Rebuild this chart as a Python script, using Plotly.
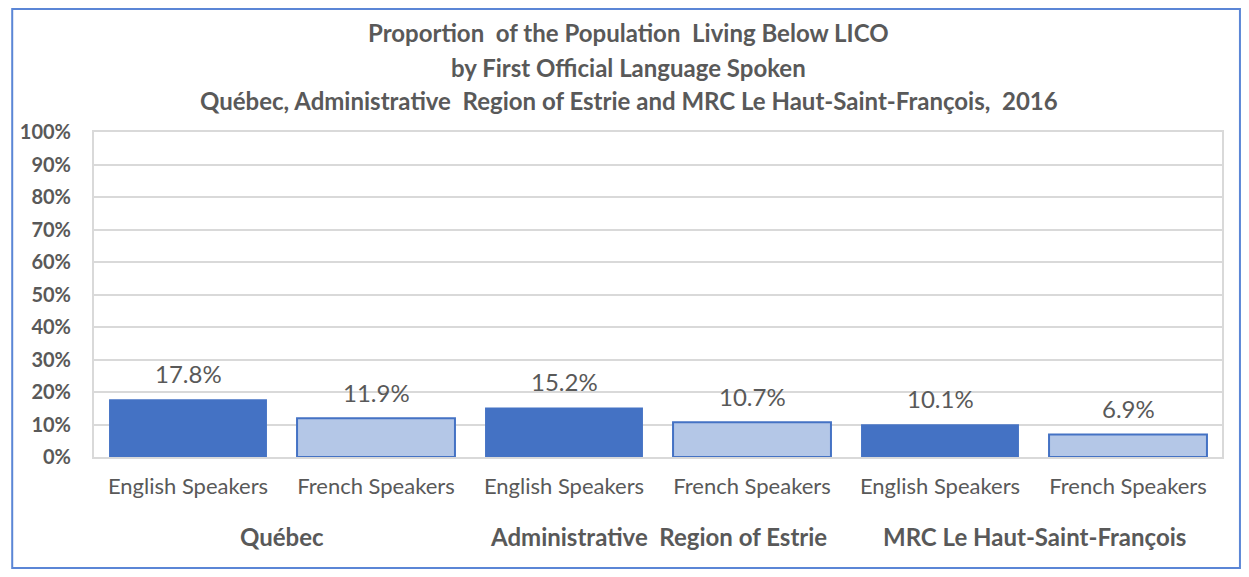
import plotly.graph_objects as go

regions = ['Québec', 'Administrative  Region of Estrie', 'MRC Le Haut-Saint-François']
languages = ['English Speakers', 'French Speakers']
values = [17.8, 11.9, 15.2, 10.7, 10.1, 6.9]

title_lines = [
    'Proportion  of the Population  Living Below LICO',
    'by First Official Language Spoken',
    'Québec, Administrative  Region of Estrie and MRC Le Haut-Saint-François,  2016',
]
y_ticks = list(range(0, 101, 10))
y_labels = [f'{v}%' for v in y_ticks]

# the page has an 8px body margin; keep the figure small enough to avoid scrollbars
W, H = 1233, 561
L, R, T, B = 83, 19, 124, 112
pw, ph = W - L - R, H - T - B

font = 'Lato, Calibri, sans-serif'
grey = '#595959'
dark, light = '#4472C4', '#B4C7E7'

xs = list(range(len(values)))
tick_text = [languages[i % 2] for i in xs]
fills = [dark if i % 2 == 0 else light for i in xs]


def py(screen_y):
    return (457 - screen_y) / ph


def px(screen_x):
    return (screen_x - 91) / pw


fig = go.Figure()
fig.add_trace(go.Bar(
    x=xs, y=values, width=0.84,
    marker=dict(color=fills, line=dict(color=dark, width=[0 if i % 2 == 0 else 2 for i in xs])),
    hoverinfo='skip',
))

# value labels sit a bit above each bar
for x, v in zip(xs, values):
    fig.add_annotation(
        x=x, y=v, text=f'{v:.1f}%', showarrow=False, yanchor='middle', yshift=26,
        font=dict(family=font, size=24, color=grey),
    )

# group labels under each pair
for k, reg in enumerate(regions):
    fig.add_annotation(
        x=2 * k + 0.5, y=py(536), xref='x', yref='paper',
        text='<b>' + reg + '</b>', showarrow=False,
        font=dict(family=font, size=24, color=grey), yanchor='middle',
    )

# title lines
for pix, line in zip([32, 67, 100], title_lines):
    fig.add_annotation(
        x=px(627), y=py(pix), xref='paper', yref='paper',
        text='<b>' + line + '</b>', showarrow=False,
        font=dict(family=font, size=24, color=grey), yanchor='middle',
    )

# outer border
fig.add_shape(
    type='rect', xref='paper', yref='paper',
    x0=-(L - 1) / pw, x1=1 + (R - 1) / pw, y0=-(B - 1) / ph, y1=1 + (T - 1) / ph,
    line=dict(color='#5B86D6', width=2), layer='below',
)

fig.update_xaxes(
    tickmode='array', tickvals=xs, ticktext=tick_text, range=[-0.5, 5.5],
    tickfont=dict(family=font, size=22, color=grey),
    ticks='outside', ticklen=9, tickcolor='rgba(0,0,0,0)',
    showline=True, linecolor='#D9D9D9', linewidth=2, mirror=True,
    showgrid=False, zeroline=False,
)
fig.update_yaxes(
    range=[0, 100], tickmode='array', tickvals=y_ticks, ticktext=y_labels,
    tickfont=dict(family=font, size=20, color=grey, weight='bold'),
    showline=True, linecolor='#D9D9D9', linewidth=2, mirror=True,
    gridcolor='#D9D9D9', gridwidth=2, zeroline=False,
    ticks='outside', ticklen=17, tickcolor='rgba(0,0,0,0)',
)
fig.update_layout(
    width=W, height=H,
    margin=dict(l=L, r=R, t=T, b=B),
    plot_bgcolor='white', paper_bgcolor='white',
    showlegend=False,
)

fig.write_html('out.html')
